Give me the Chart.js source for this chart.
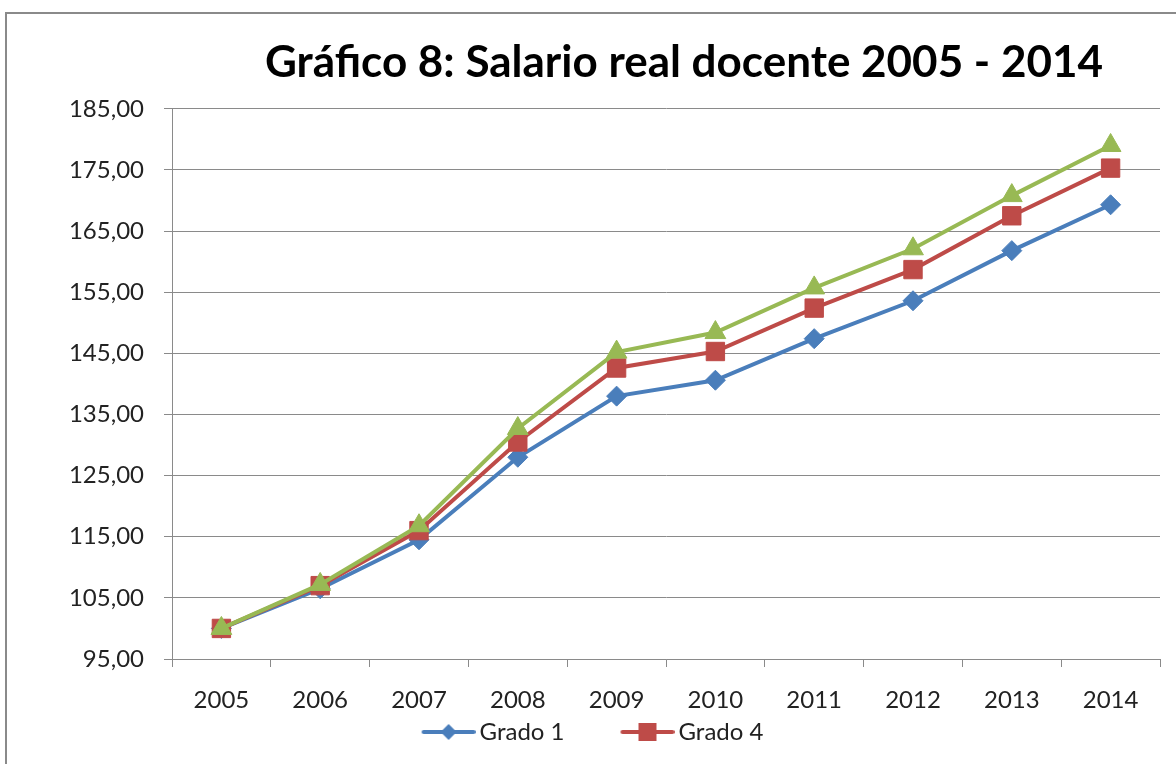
<!DOCTYPE html>
<html>
<head>
<meta charset="utf-8">
<script src="https://cdn.jsdelivr.net/npm/chart.js@4.4.1/dist/chart.umd.min.js"></script>
<style>
  html, body { margin: 0; padding: 0; background: #fff; overflow: hidden; width: 1176px; height: 764px; }
  #marco { position: absolute; left: 5px; top: 12px; border: 2px solid #8a8a8a; background: #fff; }
  canvas { display: block; }
</style>
</head>
<body>
<div id="marco"><canvas id="grafico" width="1354" height="776"></canvas></div>
<script>
const anios = ['2005', '2006', '2007', '2008', '2009', '2010', '2011', '2012', '2013', '2014']
const grado1 = [100, 106.5, 114.5, 128.0, 138.0, 140.6, 147.4, 153.6, 161.8, 169.3]
const grado4 = [100, 107.0, 116.0, 130.5, 142.6, 145.3, 152.4, 158.7, 167.5, 175.3]
const grado7 = [100, 107.2, 116.8, 132.7, 145.2, 148.4, 155.7, 162.1, 170.8, 179.0]
const ticks_y = [95, 105, 115, 125, 135, 145, 155, 165, 175, 185]

const azul = '#4A7EBB'
const rojo = '#BE4B48'
const verde = '#98B954'
const gris = '#8a8a8a'
const fuente = 'Lato'

// icono de leyenda: linea + marcador (parte izquierda transparente = espacio entre items)
function icono(color, forma) {
    const c = document.createElement('canvas')
    c.width = 113
    c.height = 26
    const ctx = c.getContext('2d')
    const cx = 86
    ctx.strokeStyle = color
    ctx.fillStyle = color
    ctx.lineWidth = 4
    ctx.lineCap = 'round'
    ctx.beginPath()
    ctx.moveTo(61, 13)
    ctx.lineTo(111, 13)
    ctx.stroke()
    ctx.beginPath()
    if (forma == 'rombo') {
        ctx.moveTo(cx, 5); ctx.lineTo(cx + 8, 13); ctx.lineTo(cx, 21); ctx.lineTo(cx - 8, 13)
    } else if (forma == 'cuadro') {
        ctx.rect(cx - 9, 4, 18, 18)
    } else {
        ctx.moveTo(cx, 3); ctx.lineTo(cx + 10, 21); ctx.lineTo(cx - 10, 21)
    }
    ctx.closePath()
    ctx.fill()
    return c
}

// la tercera serie queda fuera de la parte visible de la leyenda en el original
const series = [
    { label: 'Grado 1', data: grado1, color: azul, estilo: 'rectRot', radio: 10, forma: 'rombo', orden: 2, enLeyenda: true },
    { label: 'Grado 4', data: grado4, color: rojo, estilo: 'rect', radio: 13, forma: 'cuadro', orden: 1, enLeyenda: true },
    { label: 'Grado 7', data: grado7, color: verde, estilo: 'triangle', radio: 12, forma: 'triangulo', orden: 0, enLeyenda: false }
]

const datasets = series.map(s => ({
    label: s.label,
    data: s.data,
    borderColor: s.color,
    backgroundColor: s.color,
    borderWidth: 4,
    pointStyle: s.estilo,
    pointRadius: s.radio,
    pointBorderWidth: 1,
    pointBackgroundColor: s.color,
    pointBorderColor: s.color,
    tension: 0,
    order: s.orden
}))

const iconos = series.map(s => icono(s.color, s.forma))

// corre la leyenda hacia la izquierda como en el original
const moverLeyenda = {
    id: 'moverLeyenda',
    afterLayout(chart) {
        chart.legend.left -= 99
        chart.legend.right -= 99
    }
}

const ctx = document.getElementById('grafico').getContext('2d')
const myChart = new Chart(ctx, {
    type: 'line',
    data: {
        labels: anios,
        datasets: datasets
    },
    plugins: [moverLeyenda],
    options: {
        responsive: false,
        animation: false,
        layout: { padding: { bottom: 36 } },
        plugins: {
            title: {
                display: true,
                text: 'Gráfico 8: Salario real docente 2005 - 2014',
                color: '#000',
                font: { family: fuente, size: 44, weight: 'bold' },
                padding: { top: 22, bottom: 20 }
            },
            legend: {
                position: 'bottom',
                fullSize: false,
                labels: {
                    usePointStyle: true,
                    pointStyleWidth: 97,
                    padding: 5,
                    color: '#222',
                    font: { family: fuente, size: 24 },
                    filter: (item) => series[item.datasetIndex].enLeyenda,
                    generateLabels: (chart) => series.map((s, i) => ({
                        text: s.label,
                        fillStyle: s.color,
                        strokeStyle: s.color,
                        lineWidth: 0,
                        pointStyle: iconos[i],
                        datasetIndex: i,
                        hidden: !chart.isDatasetVisible(i),
                        fontColor: '#222'
                    }))
                }
            },
            tooltip: { enabled: false }
        },
        scales: {
            x: {
                offset: true,
                grid: { drawOnChartArea: false, offset: true, tickLength: 8, color: gris },
                border: { color: gris },
                ticks: { color: '#222', padding: 19, font: { family: fuente, size: 24 } },
                afterFit: (s) => { s.height = 56 }
            },
            y: {
                min: 95,
                max: 185,
                afterBuildTicks: (s) => { s.ticks = ticks_y.map(v => ({ value: v })) },
                grid: { color: gris, tickLength: 8 },
                border: { color: gris },
                ticks: {
                    color: '#222',
                    padding: 20,
                    font: { family: fuente, size: 24 },
                    callback: (v) => v.toFixed(2).replace('.', ',')
                },
                afterFit: (s) => { s.width = 165 }
            },
            y2: {
                position: 'right',
                grid: { display: false },
                border: { display: false },
                ticks: { display: false },
                afterFit: (s) => { s.width = 201 }
            }
        }
    }
})
</script>
</body>
</html>
